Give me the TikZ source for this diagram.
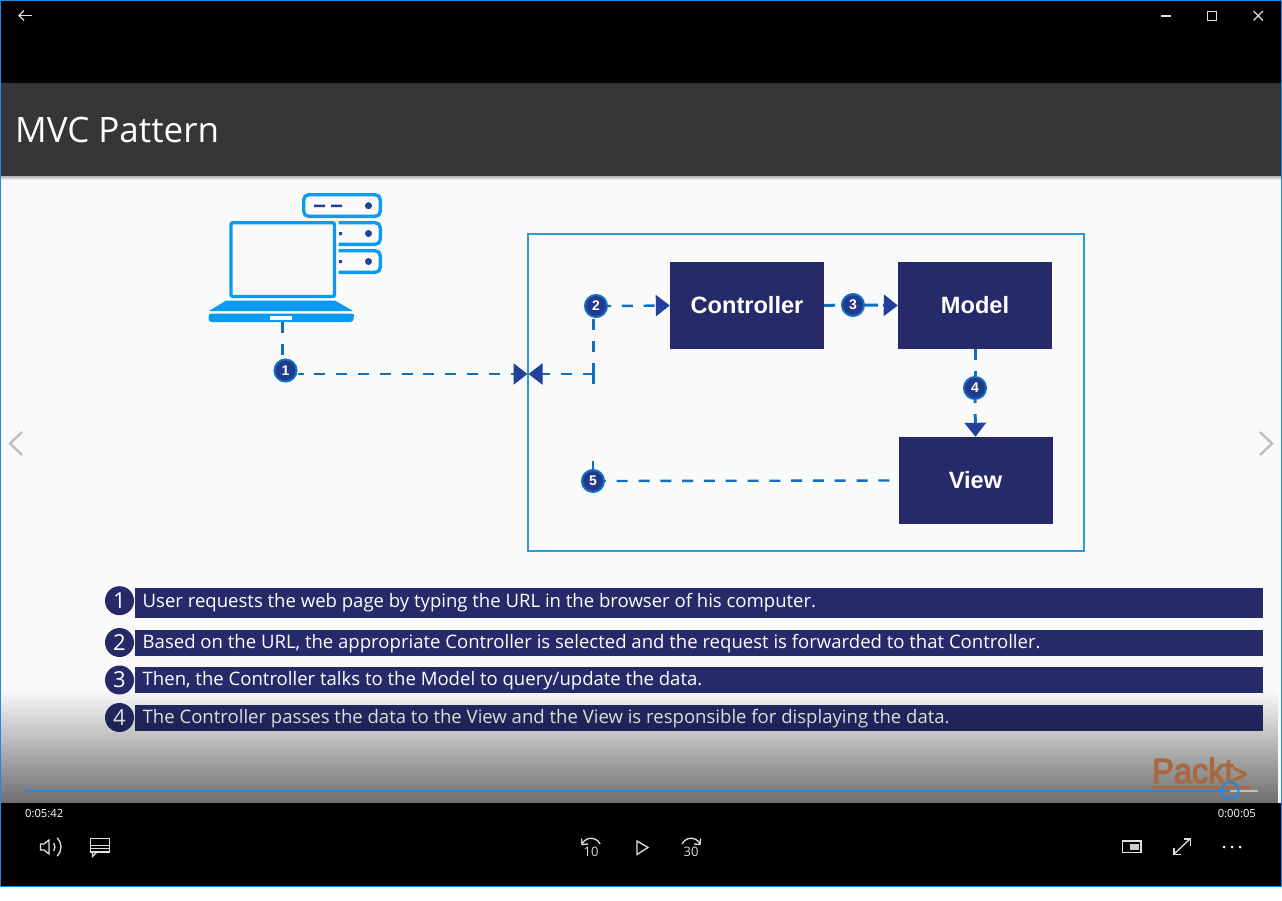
\documentclass[tikz,border=0pt]{standalone}
\usepackage{fontspec}
\setmainfont{Open Sans}
\newfontfamily\boxfont{Liberation Sans}
\newfontfamily\logofont[FakeBold=3.5]{Liberation Sans}
\usetikzlibrary{arrows.meta,fadings}
\definecolor{winblue}{HTML}{1E88E5}
\definecolor{titlebar}{HTML}{363636}
\definecolor{slidebg}{HTML}{FAFAFB}
\definecolor{navy}{HTML}{262A68}
\definecolor{iconblue}{HTML}{0A9BF0}
\definecolor{dashblue}{HTML}{0F6FC0}
\definecolor{tipblue}{HTML}{23409A}
\definecolor{framebl}{HTML}{2B9BD8}
\definecolor{packt}{HTML}{A9683F}
\tikzfading[name=bottomfade,top color=transparent!100,bottom color=transparent!44]
\tikzset{
  x=1pt,y=-1pt,
  comp/.style={fill=navy,draw=none,minimum width=154pt,minimum height=87pt,inner sep=0pt,text=white,font=\boxfont\bfseries\fontsize{23.6}{24}\selectfont},
  badge/.style={circle,fill=tipblue!70!navy,draw=dashblue,line width=2pt,minimum size=22pt,inner sep=0pt,text=white,font=\boxfont\bfseries\fontsize{14}{14}\selectfont},
  listnum/.style={circle,fill=navy,minimum size=29pt,inner sep=0pt,text=white,font=\fontsize{22}{22}\selectfont},
  listbar/.style={fill=navy,draw=none},
  listtext/.style={anchor=west,inner sep=0pt,text=white,font=\fontsize{18.55}{20}\selectfont},
  flow/.style={draw=dashblue,line width=2.4pt,dash pattern=on 11pt off 10.8pt},
  flowtip/.style={-{Triangle[length=14pt,width=21pt,color=tipblue]}},
  icon/.style={draw=iconblue,line width=3.4pt},
  ui/.style={draw=white!88!black,line width=1.3pt},
  uitext/.style={text=white,inner sep=0pt,font=\fontsize{11.2}{12}\selectfont},
  uinum/.style={text=white!88!black,inner sep=0pt,font=\fontsize{13}{13}\selectfont},
  chev/.style={draw=black!25,line width=2.4pt},
}
\begin{document}
\begin{tikzpicture}
\useasboundingbox (0,0) rectangle (1282,900);
% window
\fill[white] (0,0) rectangle (1282,900);
\fill[black] (0,0) rectangle (1282,886);
\fill[titlebar] (1,83) rectangle (1281,176);
\fill[slidebg] (1,176) rectangle (1281,803);
\shade[top color=black!30,bottom color=slidebg] (1,176) rectangle (1281,180);
\node[anchor=base west,inner sep=0pt,text=white,font=\fontsize{35}{35}\selectfont] (title) at (15,142) {MVC Pattern};
% frame and components
\draw[framebl,line width=2pt] (527.5,234) rectangle (1084,551);
\node[comp] (controller) at (747,305.5) {\raisebox{-1pt}{Controller}\hspace{4pt}};
\node[comp] (model) at (975,305.5) {\raisebox{-1pt}{Model}};
\node[comp] (view) at (975.5,480.5) {\raisebox{-1pt}{View}};
% laptop
\draw[icon,rounded corners=2pt] (231,222.7) rectangle (334.5,296.5);
\fill[iconblue] (226,300.5) -- (335,300.5) -- (353,311) -- (209,311) -- cycle;
\fill[iconblue,rounded corners=3pt] (208.5,313.5) -- (353.5,313.5) -- (353.5,322) -- (208.5,322) -- cycle;
\fill[iconblue] (208.5,313.5) rectangle (353.5,317);
\fill[white] (270,315.5) rectangle (292,319.5);
\coordinate (laptop) at (282.5,322);
% server
\draw[icon,rounded corners=5pt] (303.7,194.7) rectangle (380.3,216.3);
\draw[icon,rounded corners=5pt] (338.5,222.7) -- (380.3,222.7) -- (380.3,244.3) -- (338.5,244.3);
\draw[icon,rounded corners=5pt] (338.5,250.7) -- (380.3,250.7) -- (380.3,272.3) -- (338.5,272.3);
\fill[tipblue] (368.5,205.7) circle (3.5) (368.5,233.5) circle (3.5) (368.5,261.5) circle (3.5);
\fill[tipblue] (314,204.5) rectangle (325,207) (331,204.5) rectangle (342,207);
\fill[tipblue] (339,232) rectangle (342,235) (339,260) rectangle (342,263);
% flow nodes
\node[badge] (b1) at (285.5,370.5) {1};
\node[badge] (b2) at (596,306) {2};
\node[badge] (b3) at (853,305) {3};
\node[badge] (b4) at (975,388) {4};
\node[badge] (b5) at (593,481) {5};
\coordinate (entryL) at (527.5,374);
\coordinate (entryR) at (528.5,374);
\coordinate (corner) at (593.5,374);
\coordinate (cornerend) at (593.5,384);
\coordinate (stub) at (593,461);
\draw[flow] (laptop) -- (282.5,360);
\draw[flow,flowtip,dash phase=5pt] (b1.east |- entryL) -- (entryL);
\draw[flow,flowtip] (corner) -- (entryR);
\draw[flow] (corner) -- (cornerend);
\draw[flow] (corner) -- (b2.south -| corner);
\draw[flow,flowtip,dash phase=8pt] (b2.east) -- (controller.west);
\draw[flow,line width=3pt] (controller.east) -- (b3.west);
\draw[flow,line width=3pt,flowtip,dash pattern=on 13pt off 5pt] (b3.east) -- (model.west);
\draw[flow,line width=3pt,dash pattern=on 11pt off 11pt] (model.south) -- (b4.north);
\draw[flow,line width=3pt,flowtip,dash pattern=on 11pt off 11pt,dash phase=8pt] (b4.south) -- (view.north);
\draw[flow,dash phase=12.8pt] (view.west) -- (b5.east);
\draw[flow,dash pattern=on 10pt off 0pt] (b5.north) -- (stub);
% list
\fill[listbar] (135,587.5) rectangle (1263,618);
\fill[listbar] (135,630) rectangle (1263,656);
\fill[listbar] (135,667) rectangle (1263,693);
\fill[listbar] (135,705) rectangle (1263,731);
\node[listnum] (n1) at (119.5,600.7) {1};
\node[listnum] (n2) at (119.5,642.5) {2};
\node[listnum] (n3) at (119.5,680) {3};
\node[listnum] (n4) at (119.5,717.5) {4};
\node[listtext] (t1) at (142.5,603) {User requests the web page by typing the URL in the browser of his computer.};
\node[listtext] (t2) at (142.5,643.5) {Based on the URL, the appropriate Controller is selected and the request is forwarded to that Controller.};
\node[listtext] (t3) at (142.5,681) {Then, the Controller talks to the Model to query/update the data.};
\node[listtext] (t4) at (142.5,719) {The Controller passes the data to the View and the View is responsible for displaying the data.};
% fade
\fill[black,path fading=bottomfade] (1,690) rectangle (1281,803);
% logo
\node[anchor=base west,inner sep=0pt,text=packt,font=\logofont\fontsize{35}{35}\selectfont,xscale=.93] (logo) at (1152,783) {Packt\kern-1pt{\fontsize{27}{27}\selectfont >}};
\fill[packt] (1152,785.5) rectangle (1250,789);
% chevrons
\draw[chev] (22,432) -- (10,443.5) -- (22,455);
\draw[chev] (1260,432) -- (1272,443.5) -- (1260,455);
% progress
\fill[black!25] (1230,790) rectangle (1258,792);
\fill[winblue] (25,790) rectangle (1230,792);
\draw[winblue,line width=2pt] (1230,790.5) circle (8.5);
\node[uitext,anchor=base west] (tl) at (25,817) {0:05:42};
\node[uitext,anchor=base east] (tr) at (1256,817) {0:00:05};
% top controls
\draw[ui] (19,15.5) -- (32,15.5);
\draw[ui] (24,10.5) -- (19,15.5) -- (24,20.5);
\draw[ui] (1161,16) -- (1171,16);
\draw[ui] (1207.5,11.5) rectangle (1216.5,20.5);
\draw[ui] (1253.5,11) -- (1263,20.5) (1263,11) -- (1253.5,20.5);
% bottom controls
\draw[ui] (40.5,844) -- (44,844) -- (49,840) -- (49,854) -- (44,850) -- (40.5,850) -- cycle;
\draw[ui] (53.7,843) arc (-35:35:7);
\draw[ui] (57.2,837.8) arc (-45:45:13);
\draw[ui] (90.5,838.5) rectangle (109.5,852);
\draw[ui,line width=.8pt] (91,845) -- (109,845) (91,848) -- (109,848);
\draw[ui] (92.5,852) -- (92.5,856.5) -- (97,852);
\draw[ui] (582,844) arc (-155:-25:10);
\draw[ui] (581.5,838.5) -- (582,844.5) -- (588,844);
\node[uinum] (ten) at (591,851.5) {10};
\draw[ui] (637,841) -- (648,847.5) -- (637,854.5) -- cycle;
\draw[ui] (682,844) arc (-155:-25:10);
\draw[ui] (700.5,838.5) -- (700,844.5) -- (694,844);
\node[uinum] (thirty) at (691,851.5) {30};
\draw[ui] (1122.5,841) rectangle (1141,852.5);
\fill[white!80!black] (1130,844) rectangle (1139,850);
\draw[ui] (1174,854) -- (1190,839);
\draw[ui] (1174,848) -- (1174,854.5) -- (1180.5,854.5);
\draw[ui] (1183.5,839) -- (1190.5,839) -- (1190.5,845.5);
\fill[white] (1224,847) circle (1.5) (1232,847) circle (1.5) (1240,847) circle (1.5);
% window border
\draw[winblue,line width=1pt] (0.5,0.5) rectangle (1281.5,886);
\end{tikzpicture}
\end{document}
